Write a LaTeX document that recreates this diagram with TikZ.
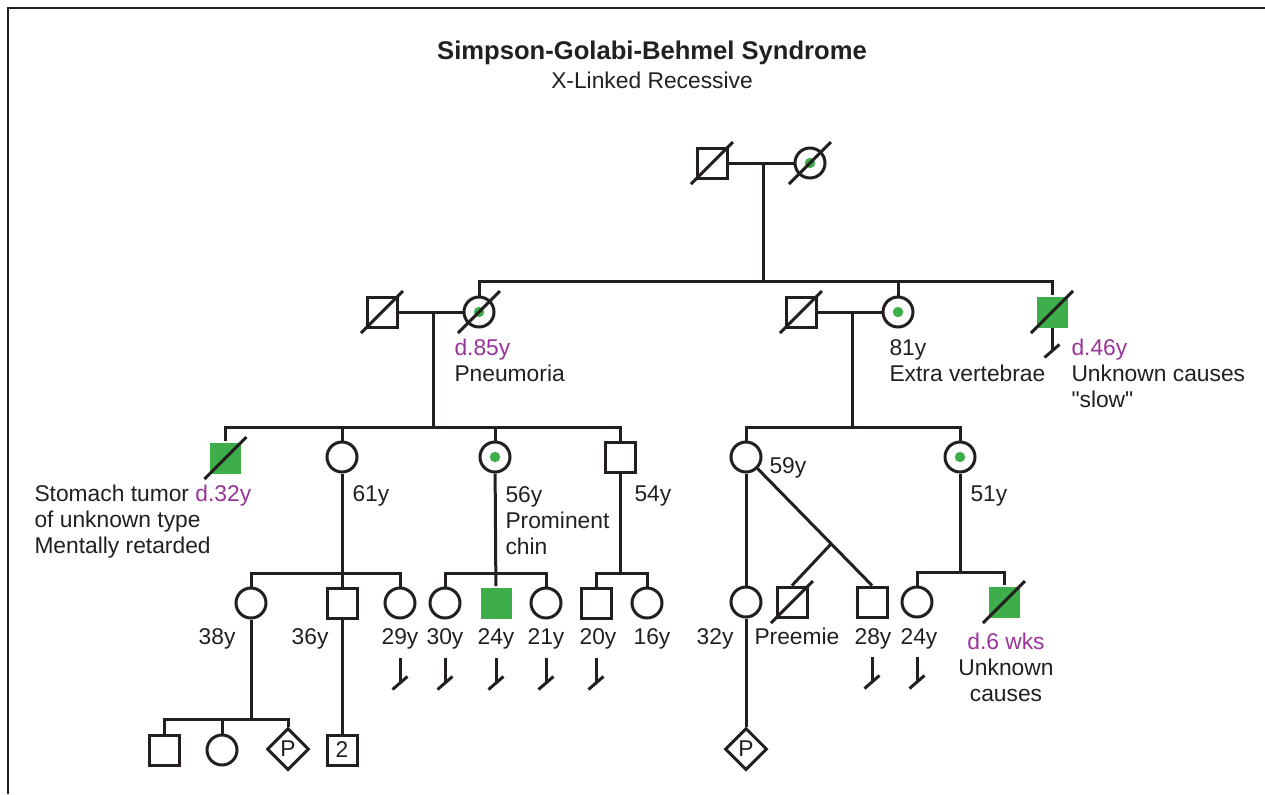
\documentclass[tikz,border=0pt]{standalone}
\usepackage{fontspec}
\setmainfont{Liberation Sans}[Ligatures=TeXOff]
\usepackage{tikz}
\usetikzlibrary{calc, positioning, shapes.geometric}
\definecolor{sgbink}{HTML}{231F20}
\definecolor{sgbgreen}{HTML}{3DAE49}
\definecolor{sgbpurple}{HTML}{993399}

% slash through a deceased person
\newcommand{\deadmark}[1]{\draw ($(#1)+(-21,21)$) -- ($(#1)+(21,-21)$);}
% short line with a tick below a person without children
\newcommand{\nokids}[3]{%
  \draw ($(#1)+(0,#2)$) -- ($(#1)+(0,#3)$);
  \draw ($(#1)+(-7.5,#3+6.5)$) -- ($(#1)+(7.5,#3-6.5)$);}

\begin{document}
\begin{tikzpicture}[x=0.5pt,y=-0.5pt,line width=1.5pt,color=sgbink,
    font=\fontsize{11.4}{13}\selectfont,
    sym/.style={draw,line width=1.5pt,minimum size=15pt,inner sep=0pt},
    male/.style={sym,rectangle},
    female/.style={sym,circle},
    unknown/.style={sym,diamond,minimum size=21pt},
    affected/.style={rectangle,fill=sgbgreen,draw=none,minimum size=15.5pt,inner sep=0pt},
    carrier/.style={path picture={\fill[sgbgreen] (path picture bounding box.center) circle (2.6pt);}},
    lbl/.style={inner sep=0pt}]
  \useasboundingbox (0,0) rectangle (1265,794);
  \draw[line width=1pt] (7.5,794) -- (7.5,8) -- (1265,8);

  \node[lbl,anchor=base,font=\bfseries\fontsize{12.8}{15}\selectfont] (title) at (652,59) {Simpson-Golabi-Behmel Syndrome};
  \node[lbl,anchor=base] (subtitle) at (652,88) {X-Linked Recessive};

  % generation I
  \node[male] (I1) at (712,163) {};
  \node[female,carrier] (I2) at (810,163) {};
  \deadmark{I1} \deadmark{I2}
  \coordinate (mI) at (763,163);
  \coordinate (sibII) at (763,281);
  \draw (I1) -- (I2);
  \draw (mI) -- (sibII);

  % generation II
  \node[male] (II1) at (382,312) {};
  \node[female,carrier] (II2) at (479,312) {};
  \node[male] (II3) at (801,312) {};
  \node[female,carrier] (II4) at (898,312) {};
  \node[affected] (II5) at (1052,312) {};
  \deadmark{II1} \deadmark{II2} \deadmark{II3} \deadmark{II5}
  \draw (II2.north) |- (sibII) -| (II5.north);
  \draw (II4.north) -- (II4.north |- sibII);
  \draw (II1) -- (II2);
  \draw (II3) -- (II4);
  \nokids{II5}{15.5}{39}
  \node[lbl,anchor=base west,align=left] (lII2) at (453,381) {{\color{sgbpurple}d.85y}\\Pneumoria};
  \node[lbl,anchor=base west,align=left] (lII4) at (888,381) {81y\\Extra vertebrae};
  \node[lbl,anchor=base west,align=left] (lII5) at (1070,407) {{\color{sgbpurple}d.46y}\\Unknown causes\\"slow"};

  % generation III
  \coordinate (mIIa) at (433,312);
  \coordinate (sibIIIa) at (433,427);
  \coordinate (mIIb) at (852,312);
  \coordinate (sibIIIb) at (852,427);
  \node[affected] (III1) at (225.5,458) {};
  \node[female] (III2) at (342,457) {};
  \node[female,carrier] (III3) at (495,457) {};
  \node[male] (III4) at (620,457) {};
  \node[female] (III5) at (746,457) {};
  \node[female,carrier] (III6) at (960,457) {};
  \deadmark{III1}
  \draw (mIIa) -- (sibIIIa);
  \draw (mIIb) -- (sibIIIb);
  \draw (III1.north) |- (sibIIIa) -| (III4.north);
  \draw (III2.north) -- (III2.north |- sibIIIa);
  \draw (III3.north) -- (III3.north |- sibIIIa);
  \draw (III5.north) |- (sibIIIb) -| (III6.north);
  \node[lbl,anchor=base west,align=left] (lIII1) at (33,553) {Stomach tumor {\color{sgbpurple}d.32y}\\of unknown type\\Mentally retarded};
  \node[lbl,anchor=base west] (lIII2) at (351,501) {61y};
  \node[lbl,anchor=base west,align=left] (lIII3) at (504,554) {56y\\Prominent\\chin};
  \node[lbl,anchor=base west] (lIII4) at (633,501) {54y};
  \node[lbl,anchor=base west] (lIII5) at (768,473) {59y};
  \node[lbl,anchor=base west] (lIII6) at (969,501) {51y};

  % generation IV
  \coordinate (sibIVa) at (342,573);
  \coordinate (sibIVb) at (495,573);
  \coordinate (sibIVc) at (620,573);
  \coordinate (sibIVd) at (960,572);
  \node[female] (IV1) at (251,603) {};
  \node[male] (IV2) at (342,603) {};
  \node[female] (IV3) at (400,603) {};
  \node[female] (IV4) at (445,603) {};
  \node[affected] (IV5) at (496,603) {};
  \node[female] (IV6) at (546,603) {};
  \node[male] (IV7) at (596,603) {};
  \node[female] (IV8) at (647,603) {};
  \node[female] (IV9) at (746,602) {};
  \node[male] (IV10) at (792,602) {};
  \node[male] (IV11) at (872,602) {};
  \node[female] (IV12) at (917,602) {};
  \node[affected] (IV13) at (1004,602) {};
  \deadmark{IV10} \deadmark{IV13}
  \draw (III2) -- (sibIVa);
  \draw (IV1.north) |- (sibIVa) -| (IV3.north);
  \draw (sibIVa) -- (IV2.north);
  \draw (III3) -- (IV5);
  \draw (IV4.north) |- (sibIVb) -| (IV6.north);
  \draw (III4) -- (sibIVc);
  \draw (IV7.north) |- (sibIVc) -| (IV8.north);
  \draw (III6) -- (sibIVd);
  \draw (IV12.north) |- (sibIVd) -| (IV13.north);
  \draw (III5) -- (IV9);
  \coordinate (twin) at ($(III5.-45)!0.643!(IV11.north)$);
  \draw (III5.-45) -- (IV11.north);
  \draw (twin) -- (IV10.north);
  \nokids{IV3}{55}{80} \nokids{IV4}{55}{80} \nokids{IV5}{55}{80}
  \nokids{IV6}{55}{80} \nokids{IV7}{55}{80}
  \nokids{IV11}{55}{80} \nokids{IV12}{55}{80}
  \node[lbl,anchor=base east] (lIV1) at (237,644) {38y};
  \node[lbl,anchor=base east] (lIV2) at (330,644) {36y};
  \node[lbl,anchor=base] (lIV3) at (400,644) {29y};
  \node[lbl,anchor=base] (lIV4) at (445,644) {30y};
  \node[lbl,anchor=base] (lIV5) at (496,644) {24y};
  \node[lbl,anchor=base] (lIV6) at (546,644) {21y};
  \node[lbl,anchor=base] (lIV7) at (598,644) {20y};
  \node[lbl,anchor=base] (lIV8) at (652,644) {16y};
  \node[lbl,anchor=base east] (lIV9) at (735,644) {32y};
  \node[lbl,anchor=base west] (lIV10) at (753,644) {Preemie};
  \node[lbl,anchor=base] (lIV11) at (873,644) {28y};
  \node[lbl,anchor=base] (lIV12) at (919,644) {24y};
  \node[lbl,anchor=base,align=center] (lIV13) at (1006,701) {{\color{sgbpurple}d.6 wks}\\Unknown\\causes};

  % generation V
  \coordinate (sibV) at (251,719);
  \node[male] (V1) at (164,750) {};
  \node[female] (V2) at (222,750) {};
  \node[unknown] (V3) at (288,749) {P};
  \node[male] (V4) at (342,750) {2};
  \node[unknown] (V5) at (746,749) {P};
  \draw (IV1) -- (sibV);
  \draw (V1.north) |- (sibV) -| (V3.north);
  \draw (V2.north) -- (V2.north |- sibV);
  \draw (IV2) -- (V4);
  \draw (IV9) -- (V5);
\end{tikzpicture}
\end{document}
